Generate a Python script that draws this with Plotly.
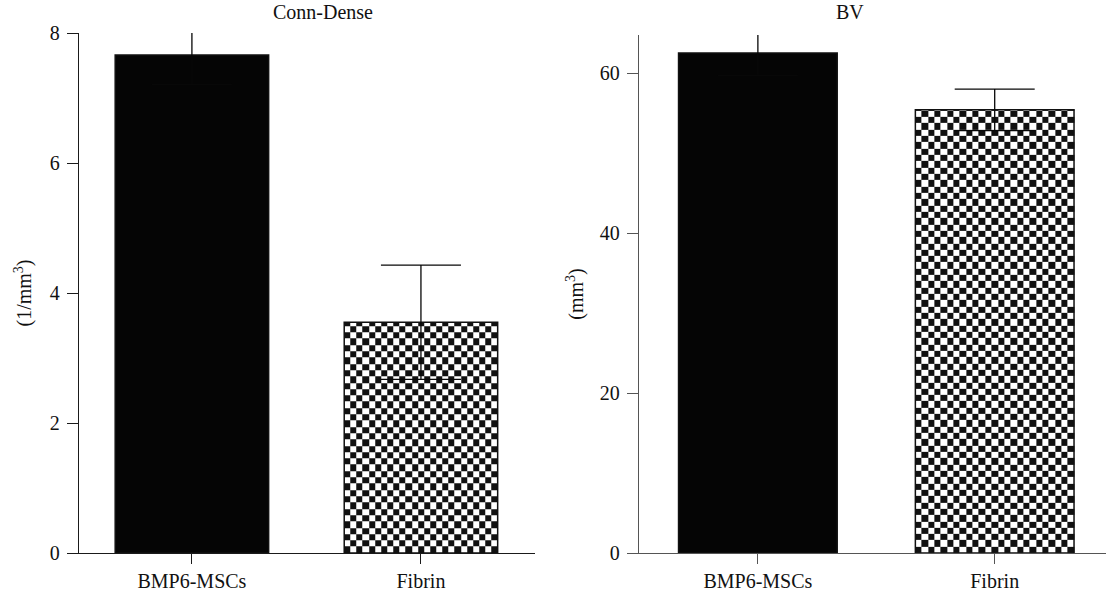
import numpy as np
import plotly.graph_objects as go

# ---- data ----
categories = ["BMP6-MSCs", "Fibrin"]
positions = [0, 1]
conn_mean = [7.66, 3.55]
conn_err = [0.45, 0.88]
bv_mean = [62.5, 55.4]
bv_err = [2.8, 2.6]

BAR_W = 0.67
FONT = "Liberation Serif"
FS = 20


def checker(xc, top, cell_h, ncols, xa, ya):
    """Checkerboard texture filling a bar from 0 to `top`."""
    xe = np.linspace(xc - BAR_W / 2, xc + BAR_W / 2, ncols + 1)
    ye = np.append(np.arange(0, top, cell_h), top)
    nr = len(ye) - 1
    z = [[(i + j) % 2 for j in range(ncols)] for i in range(nr)]
    return go.Heatmap(x=xe, y=ye, z=z, xaxis=xa, yaxis=ya, zmin=0, zmax=1,
                      colorscale=[[0, "#111111"], [1, "#ffffff"]],
                      showscale=False, hoverinfo="skip", zsmooth=False)


fig = go.Figure()

# checker texture for the Fibrin bars
fig.add_trace(checker(positions[1], conn_mean[1], 0.097, 25, "x", "y"))
fig.add_trace(checker(positions[1], bv_mean[1], 0.79, 25, "x2", "y2"))

fills = ["#050505", "rgba(0,0,0,0)"]

fig.add_trace(go.Bar(x=positions, y=conn_mean, width=BAR_W, xaxis="x", yaxis="y",
                     marker=dict(color=fills, line=dict(color="#111111", width=1.5)),
                     error_y=dict(type="data", array=conn_err, symmetric=True,
                                  color="#080808", thickness=1.3, width=40),
                     showlegend=False))
fig.add_trace(go.Bar(x=positions, y=bv_mean, width=BAR_W, xaxis="x2", yaxis="y2",
                     marker=dict(color=fills, line=dict(color="#111111", width=1.5)),
                     error_y=dict(type="data", array=bv_err, symmetric=True,
                                  color="#080808", thickness=1.3, width=40),
                     showlegend=False))

xcommon = dict(tickmode="array", tickvals=positions, ticktext=categories,
               showgrid=False, zeroline=False, showline=True, linewidth=1.3,
               ticks="outside", ticklen=10, tickwidth=1.3,
               tickfont=dict(family=FONT, size=FS, color="#111"))
ycommon = dict(showgrid=False, zeroline=False, showline=True, linewidth=1.3,
               ticks="outside", ticklen=11, tickwidth=1.3, ticklabelstandoff=3,
               tickfont=dict(family=FONT, size=FS, color="#111"))

fig.update_layout(
    width=1106, height=591,
    margin=dict(l=0, r=0, t=33, b=38),
    paper_bgcolor="white", plot_bgcolor="white",
    showlegend=False,
    xaxis=dict(domain=[79 / 1106, 535 / 1106], range=[-0.493, 1.498],
               linecolor="#1a1a1a", tickcolor="#1a1a1a", **xcommon),
    yaxis=dict(range=[0, 8], tickvals=[0, 2, 4, 6, 8], anchor="x",
               linecolor="#1a1a1a", tickcolor="#1a1a1a",
               title=dict(text="(1/mm<sup>3</sup>)", standoff=12,
                          font=dict(family=FONT, size=FS, color="#111")),
               **ycommon),
    xaxis2=dict(domain=[639 / 1106, 1.0], range=[-0.502, 1.47], anchor="y2",
                linecolor="#555555", tickcolor="#555555", **xcommon),
    yaxis2=dict(range=[0, 64.75], tickvals=[0, 20, 40, 60], anchor="x2",
                domain=[0, 0.996],
                linecolor="#555555", tickcolor="#555555",
                title=dict(text="(mm<sup>3</sup>)", standoff=10,
                           font=dict(family=FONT, size=FS, color="#111")),
                **ycommon),
    annotations=[
        dict(text="Conn-Dense", x=323 / 1106, y=1 + 21 / 520, xref="paper", yref="paper",
             xanchor="center", yanchor="middle", showarrow=False,
             font=dict(family=FONT, size=FS, color="#111")),
        dict(text="BV", x=850 / 1106, y=1 + 21 / 520, xref="paper", yref="paper",
             xanchor="center", yanchor="middle", showarrow=False,
             font=dict(family=FONT, size=FS, color="#111")),
    ],
)

fig.write_html("out.html", config={"displayModeBar": False},
               post_script="document.body.style.margin='0';document.body.style.padding='0';")
